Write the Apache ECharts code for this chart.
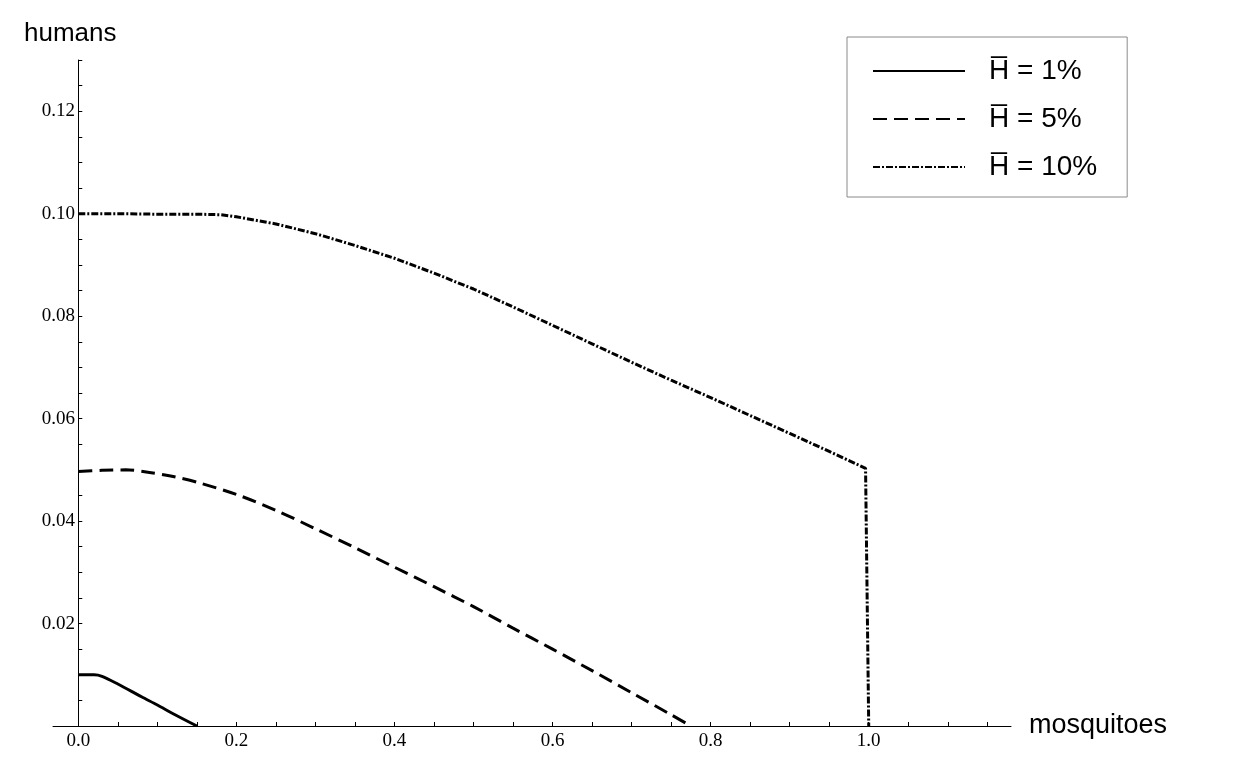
<!DOCTYPE html>
<html>
<head>
<meta charset="utf-8">
<script src="https://cdn.jsdelivr.net/npm/echarts@6/dist/echarts.min.js"></script>
<style>
html,body{margin:0;padding:0;background:#fff;}
#chart{width:1247px;height:782px;}
</style>
</head>
<body>
<div id="chart"></div>
<script>
// ---- data ----
var seriesNames = ['H\u0305 = 1%', 'H\u0305 = 5%', 'H\u0305 = 10%'];

var h1 = [[0,0.0100],[0.02,0.0100],[0.03,0.0097],[0.05,0.0082],[0.08,0.0057],[0.10,0.0041],[0.12,0.0024],[0.15,0.0000]];

var h5 = [[0,0.0497],[0.03,0.0499],[0.06,0.0500],[0.09,0.0495],[0.12,0.0487],[0.15,0.0476],[0.20,0.0452],[0.25,0.0421],
          [0.30,0.0385],[0.35,0.0348],[0.40,0.0310],[0.45,0.0272],[0.50,0.0233],[0.55,0.0191],[0.60,0.0150],
          [0.65,0.0108],[0.70,0.0065],[0.75,0.0022],[0.775,0.0000]];

var h10 = [[0,0.1000],[0.05,0.1000],[0.10,0.0999],[0.15,0.0999],[0.18,0.0998],[0.20,0.0994],[0.25,0.0980],[0.30,0.0961],
           [0.35,0.0938],[0.40,0.0913],[0.45,0.0884],[0.50,0.0853],[0.55,0.0818],[0.60,0.0782],[0.65,0.0746],
           [0.70,0.0710],[0.75,0.0675],[0.80,0.0641],[0.85,0.0606],[0.90,0.0571],[0.95,0.0536],[0.996,0.0503],[1.0,0.0000]];

var xLabelValues = [0, 0.2, 0.4, 0.6, 0.8, 1.0];
var xTickValues = [0,0.05,0.1,0.15,0.2,0.25,0.3,0.35,0.4,0.45,0.5,0.55,0.6,0.65,0.7,0.75,0.8,0.85,0.9,0.95,1.0,1.05,1.1,1.15];
var yLabelValues = [0.02, 0.04, 0.06, 0.08, 0.10, 0.12];
var yTickValues = [0.005,0.01,0.015,0.02,0.025,0.03,0.035,0.04,0.045,0.05,0.055,0.06,0.065,0.07,0.075,0.08,0.085,0.09,0.095,0.1,0.105,0.11,0.115,0.12,0.125,0.13];

var xName = 'mosquitoes';
var yName = 'humans';

// ---- chart ----
var chart = echarts.init(document.getElementById('chart'), null, {renderer: 'canvas'});
var serifFont = '"Liberation Serif", "Times New Roman", serif';
var sansFont = '"Liberation Sans", Arial, sans-serif';

chart.setOption({
  animation: false,
  backgroundColor: '#ffffff',
  grid: {left: 53, right: 236, top: 60, bottom: 56, containLabel: false},
  legend: {
    show: true,
    orient: 'vertical',
    left: 847,
    top: 37,
    padding: [18, 30, 14, 25],
    borderColor: '#8a8a8a',
    borderWidth: 1,
    itemWidth: 92,
    itemHeight: 14,
    itemGap: 16,
    itemStyle: {color: 'rgba(0,0,0,0)', borderColor: 'rgba(0,0,0,0)', borderWidth: 0},
    textStyle: {
      fontFamily: sansFont,
      fontSize: 28,
      color: '#000',
      lineHeight: 32,
      padding: [0, 0, 0, 19]
    },
    data: seriesNames
  },
  xAxis: {
    type: 'value',
    min: -0.032,
    max: 1.18,
    name: xName,
    nameLocation: 'end',
    nameGap: 18,
    nameTextStyle: {fontFamily: sansFont, fontSize: 27, color: '#000', verticalAlign: 'middle'},
    axisLine: {show: true, onZero: false, lineStyle: {color: '#000', width: 1}},
    axisTick: {show: true, inside: true, length: 4, customValues: xTickValues, lineStyle: {color: '#000'}},
    axisLabel: {
      show: true, customValues: xLabelValues, margin: 6,
      fontFamily: serifFont, fontSize: 19, color: '#000',
      formatter: function (v) { return Number(v).toFixed(1); }
    },
    splitLine: {show: false}
  },
  yAxis: {
    type: 'value',
    min: 0,
    max: 0.13,
    name: yName,
    nameLocation: 'end',
    nameGap: 13,
    nameTextStyle: {fontFamily: sansFont, fontSize: 26, color: '#000', align: 'center', padding: [0, 16, 0, 0]},
    axisLine: {show: true, onZero: true, lineStyle: {color: '#000', width: 1}},
    axisTick: {show: true, inside: true, length: 4, customValues: yTickValues, lineStyle: {color: '#000'}},
    axisLabel: {
      show: true, customValues: yLabelValues, margin: -22,
      fontFamily: serifFont, fontSize: 19, color: '#000',
      formatter: function (v) { return Number(v).toFixed(2); }
    },
    splitLine: {show: false}
  },
  series: [
    {
      name: seriesNames[0], type: 'line', data: h1, symbol: 'none', smooth: 0.3,
      lineStyle: {color: '#000', width: 3, type: 'solid'}, itemStyle: {color: '#000'}
    },
    {
      name: seriesNames[1], type: 'line', data: h5, symbol: 'none', smooth: 0.3,
      lineStyle: {color: '#000', width: 3, type: [14, 7]}, itemStyle: {color: '#000'}
    },
    {
      name: seriesNames[2], type: 'line', data: h10, symbol: 'none', smooth: false,
      lineStyle: {color: '#000', width: 3, type: [7, 2, 2, 2]}, itemStyle: {color: '#000'}
    }
  ]
});
</script>
</body>
</html>
